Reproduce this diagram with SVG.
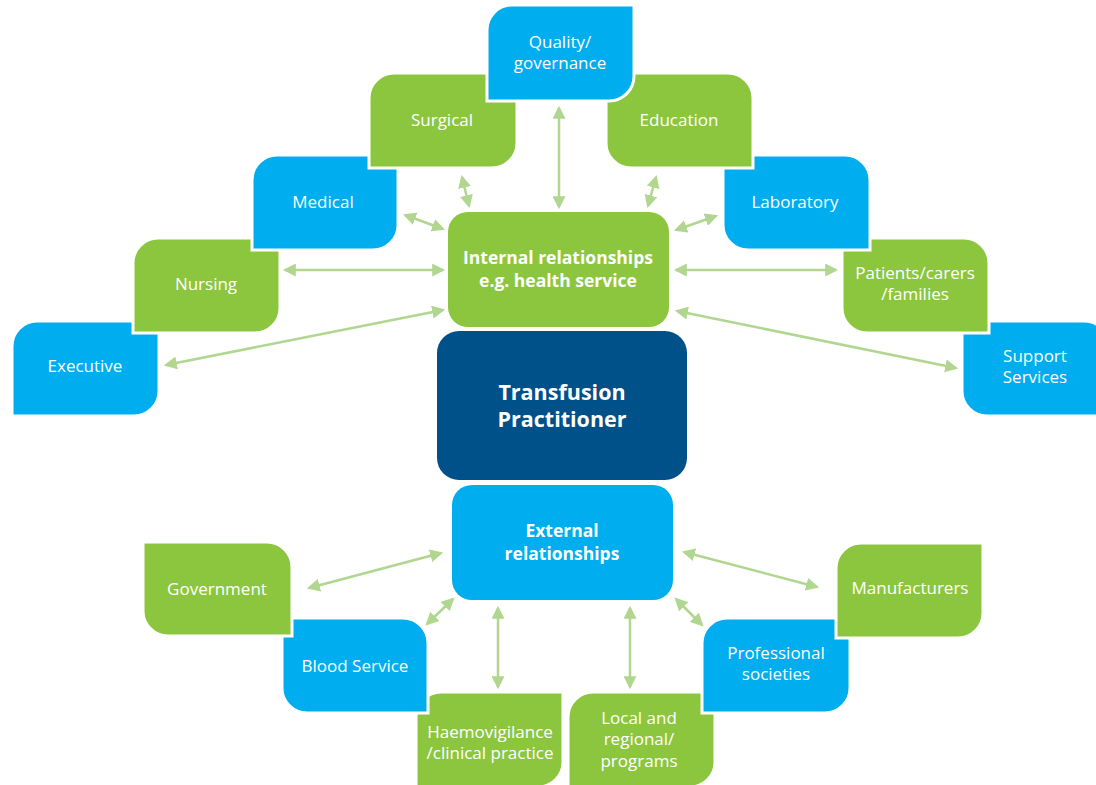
<svg xmlns="http://www.w3.org/2000/svg" width="1096" height="785" viewBox="0 0 1096 785">
<style>
.g{fill:#8cc63f;stroke:#fff;stroke-width:3}
.b{fill:#00adee;stroke:#fff;stroke-width:3}
.d{fill:#00508a}
text{font-family:"Open Sans","Liberation Sans",sans-serif;fill:#fff;text-anchor:middle;font-size:17px}
.bold{font-weight:bold;font-size:17.5px}
.big{font-weight:bold;font-size:21.5px}
.c line{stroke:#b0d68f;stroke-width:2.5;marker-start:url(#ah);marker-end:url(#ah)}
</style>
<defs>
<marker id="ah" viewBox="0 0 12 12" refX="10" refY="6" markerWidth="13" markerHeight="13" markerUnits="userSpaceOnUse" orient="auto-start-reverse">
<path d="M0,0 L12,6 L0,12 Z" fill="#b0d68f"/>
</marker>
</defs>
<rect width="1096" height="785" fill="#fff"/>

<g id="executive"><path class="b" d="M12,346 A25,25 0 0 1 37,321 H159 V391 A25,25 0 0 1 134,416 H12 Z"/><text x="85" y="372">Executive</text></g>
<g id="support"><path class="b" d="M962,321 H1084 A25,25 0 0 1 1109,346 V416 H987 A25,25 0 0 1 962,391 Z"/><text x="1035" y="362">Support</text><text x="1035" y="383">Services</text></g>
<g id="nursing"><path class="g" d="M133,263 A25,25 0 0 1 158,238 H280 V308 A25,25 0 0 1 255,333 H133 Z"/><text x="206" y="290">Nursing</text></g>
<g id="patients"><path class="g" d="M842,238 H964 A25,25 0 0 1 989,263 V333 H867 A25,25 0 0 1 842,308 Z"/><text x="915" y="279">Patients/carers</text><text x="915" y="300">/families</text></g>
<g id="medical"><path class="b" d="M252,180 A25,25 0 0 1 277,155 H398 V225 A25,25 0 0 1 373,250 H252 Z"/><text x="323" y="208">Medical</text></g>
<g id="laboratory"><path class="b" d="M723,155 H845 A25,25 0 0 1 870,180 V250 H748 A25,25 0 0 1 723,225 Z"/><text x="795" y="208">Laboratory</text></g>
<g id="surgical"><path class="g" d="M369,98 A25,25 0 0 1 394,73 H517 V143 A25,25 0 0 1 492,168 H369 Z"/><text x="442" y="126">Surgical</text></g>
<g id="education"><path class="g" d="M606,73 H728 A25,25 0 0 1 753,98 V168 H631 A25,25 0 0 1 606,143 Z"/><text x="679" y="126">Education</text></g>
<g id="quality"><path class="b" d="M487,30 A25,25 0 0 1 512,5 H634 V76 A25,25 0 0 1 609,101 H487 Z"/><text x="560" y="48">Quality/</text><text x="560" y="69">governance</text></g>

<g id="haemovigilance"><path class="g" d="M416,717 A25,25 0 0 1 441,692 H563 V762 A25,25 0 0 1 538,787 H416 Z"/><text x="490" y="738">Haemovigilance</text><text x="490" y="759">/clinical practice</text></g>
<g id="local"><path class="g" d="M568,717 A25,25 0 0 1 593,692 H715 V762 A25,25 0 0 1 690,787 H568 Z"/><text x="639" y="724">Local and</text><text x="639" y="745">regional/</text><text x="639" y="767">programs</text></g>
<g id="blood"><path class="b" d="M282,618 H403 A25,25 0 0 1 428,643 V713 H307 A25,25 0 0 1 282,688 Z"/><text x="355" y="672">Blood Service</text></g>
<g id="professional"><path class="b" d="M702,643 A25,25 0 0 1 727,618 H850 V688 A25,25 0 0 1 825,713 H702 Z"/><text x="776" y="659">Professional</text><text x="776" y="680">societies</text></g>
<g id="government"><path class="g" d="M143,542 H267 A25,25 0 0 1 292,567 V636 H168 A25,25 0 0 1 143,611 Z"/><text x="217" y="595">Government</text></g>
<g id="manufacturers"><path class="g" d="M836,568 A25,25 0 0 1 861,543 H983 V613 A25,25 0 0 1 958,638 H836 Z"/><text x="910" y="594">Manufacturers</text></g>

<g id="internal"><rect x="448" y="212" width="221" height="115" rx="20" fill="#8cc63f"/><text class="bold" x="558" y="264">Internal relationships</text><text class="bold" x="558" y="287">e.g. health service</text></g>
<g id="transfusion"><rect class="d" x="437" y="331" width="250" height="149" rx="22"/><text class="big" x="562" y="400">Transfusion</text><text class="big" x="562" y="427">Practitioner</text></g>
<g id="external"><rect x="452" y="485" width="221" height="115" rx="20" fill="#00adee"/><text class="bold" x="562" y="537">External</text><text class="bold" x="562" y="560">relationships</text></g>

<g id="connectors" class="c">
<line x1="559" y1="108" x2="559" y2="207"/>
<line x1="462" y1="177" x2="469" y2="206"/>
<line x1="656" y1="177" x2="648" y2="206"/>
<line x1="405" y1="215" x2="443" y2="229"/>
<line x1="716" y1="216" x2="676" y2="230"/>
<line x1="285" y1="270" x2="443" y2="270"/>
<line x1="676" y1="270" x2="836" y2="270"/>
<line x1="166" y1="365" x2="443" y2="310"/>
<line x1="677" y1="311" x2="956" y2="368"/>
<line x1="309" y1="588" x2="441" y2="553"/>
<line x1="427" y1="624" x2="453" y2="599"/>
<line x1="498" y1="608" x2="498" y2="687"/>
<line x1="630" y1="608" x2="630" y2="687"/>
<line x1="676" y1="599" x2="702" y2="625"/>
<line x1="684" y1="552" x2="817" y2="587"/>
</g>
</svg>
